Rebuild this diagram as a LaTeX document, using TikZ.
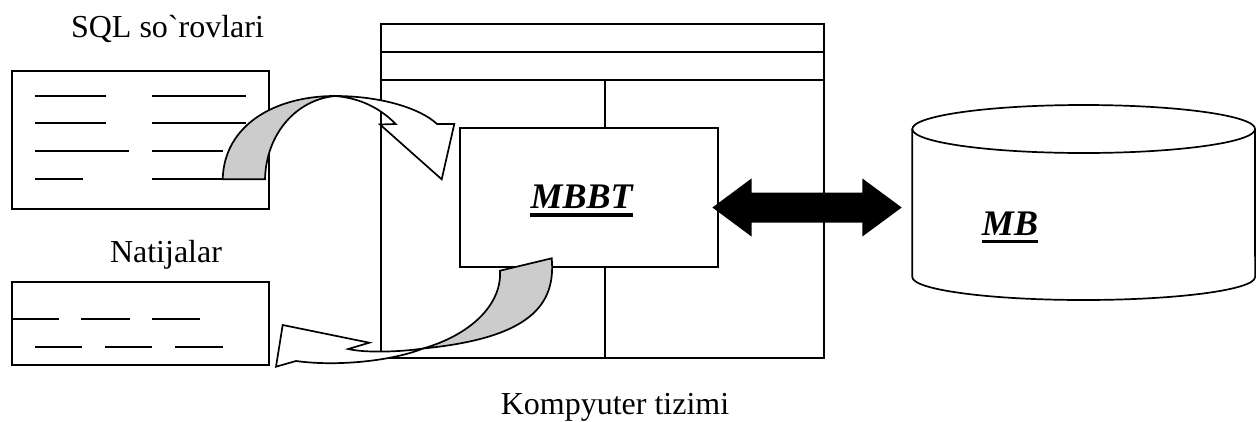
\documentclass[tikz,border=0pt]{standalone}
\usepackage{fontspec}
\newfontfamily\tnr{Liberation Serif}
\definecolor{ribbon}{HTML}{CCCCCC}
\begin{document}
\begin{tikzpicture}[x=1pt,y=-1pt,
  box/.style={draw, line width=1.7pt, inner sep=0pt, outer sep=0pt},
  rule/.style={line width=1.7pt},
  lbl/.style={inner sep=0pt, anchor=base, font={\tnr\fontsize{32}{38}\selectfont}},
  big/.style={inner sep=0pt, anchor=base, font={\tnr\fontsize{36}{43}\selectfont\bfseries\itshape}},
  uline/.style={line width=3.3pt},
  ribbonfill/.style={draw, fill=ribbon, line width=1.7pt},
  whitefill/.style={draw, fill=white, line width=1.7pt},
  blockarrow/.style={fill=black}]
\useasboundingbox (0,0) rectangle (1256,421);

% computer system
\node[box, minimum width=443.6pt, minimum height=334pt] (sys) at (602.5,191) {};
\draw[rule] (380.7,51.7) -- (824.3,51.7);
\draw[rule] (380.7,80) -- (824.3,80);
\draw[rule] (604.7,80) -- (604.7,358);
\node[box, fill=white, minimum width=257.7pt, minimum height=139pt] (mbbt) at (588.85,197.8) {};

% document 1 (queries)
\node[box, minimum width=257pt, minimum height=138.3pt] (doc1) at (140.5,139.85) {};
\draw[rule] (35,95.7) -- (106,95.7)  (152,95.7) -- (246,95.7);
\draw[rule] (35,123) -- (106,123)  (152,123) -- (246,123);
\draw[rule] (35,151) -- (129,151)  (152,151) -- (223,151);
\draw[rule] (35,179) -- (83,179)   (152,179) -- (223,179);

% document 2 (results)
\node[box, minimum width=256.6pt, minimum height=83.5pt] (doc2) at (140.5,323.4) {};
\draw[rule] (12.2,319) -- (59.2,319)  (81.4,319) -- (129.5,319)  (151.7,319) -- (199.8,319);
\draw[rule] (35.1,346.7) -- (82.1,346.7)  (105.4,346.7) -- (152.4,346.7)  (175,346.7) -- (223,346.7);

% database cylinder
\draw[rule, fill=white] (912.3,129) -- (912.3,277)
  arc[start angle=180, end angle=0, x radius=171.4, y radius=23] -- (1255,129);
\draw[rule] (1083.7,129) ellipse [x radius=171.4, y radius=24];

% double block arrow
\coordinate (dl) at (712.4,207.5);
\coordinate (dr) at (901.7,207.5);
\fill[blockarrow] (dl) -- ++(39.1,-29) -- ++(0,14) -- (862.4,192.5) -- ++(0,-14)
  -- (dr) -- (862.4,236.5) -- ++(0,-14) -- (751.5,222.5) -- ++(0,14) -- cycle;

% upper curved arrow (queries -> MBBT)
\draw[ribbonfill] (222.7,179.3) .. controls (224,125) and (275,96) .. (335,96)
  .. controls (295,100) and (266,135) .. (265,179.3) -- cycle;
\draw[whitefill] (335,96) .. controls (380,96) and (420,108) .. (437,124)
  -- (454.3,124) -- (441.7,179.3) -- (380,124.5) -- (395.7,124)
  .. controls (380,108) and (360,98) .. (335,96) -- cycle;

% lower curved arrow (MBBT -> results)
\coordinate (tw) at (423,348.5);
\draw[ribbonfill] (500,270.7) -- (551.7,258.3) .. controls (556,305) and (530,338) .. (tw)
  .. controls (470,335) and (502,305) .. (500,270.7) -- cycle;
\draw[whitefill] (tw) .. controls (395,360) and (340,367) .. (296,361)
  -- (276,366.7) -- (282.7,325) -- (369.3,342.7) -- (348.3,349)
  .. controls (365,353) and (400,352) .. (tw) -- cycle;

% labels
\node[lbl] (sql) at (167.5,37.3) {SQL so`rovlari};
\node[lbl] (nat) at (166,262.7) {Natijalar};
\node[lbl] (komp) at (615,414) {Kompyuter tizimi};
\node[big] (mbbtt) at (581.7,208.3) {MBBT};
\node[big] (mbt) at (1010,235) {MB};
\draw[uline] ([yshift=-6.7pt]mbbtt.base west) -- ([yshift=-6.7pt]mbbtt.base east);
\draw[uline] ([yshift=-6.7pt]mbt.base west) -- ([yshift=-6.7pt]mbt.base east);
\end{tikzpicture}
\end{document}
